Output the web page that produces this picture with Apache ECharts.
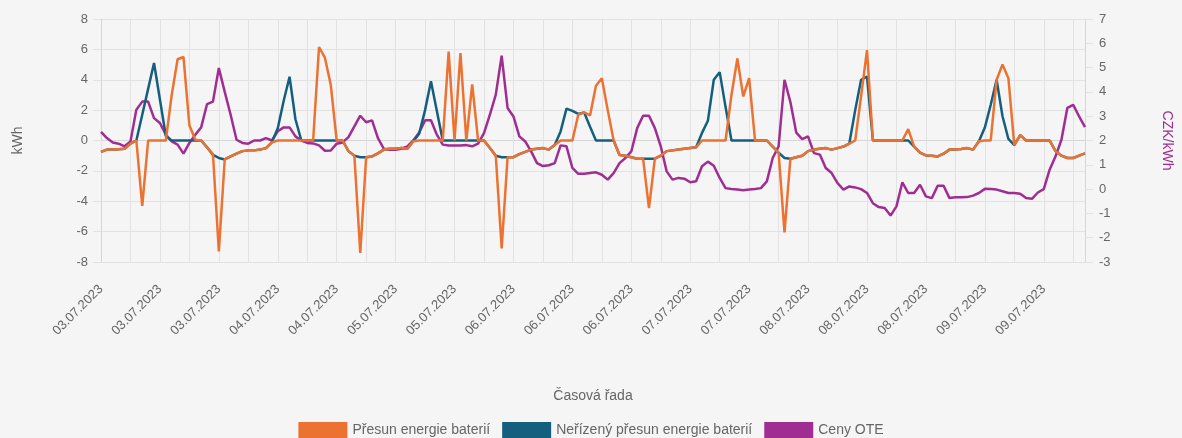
<!DOCTYPE html>
<html>
<head>
<meta charset="utf-8">
<script src="https://cdn.jsdelivr.net/npm/echarts@6/dist/echarts.min.js"></script>
<style>
html, body { margin: 0; padding: 0; background: #f5f5f5; }
#chart { width: 1182px; height: 438px; }
</style>
</head>
<body>
<div id="chart"></div>
<script>
// hodinova data, prvni bod 03.07.2023 02:00
const days = ['03.07.2023', '04.07.2023', '05.07.2023', '06.07.2023', '07.07.2023', '08.07.2023', '09.07.2023', '10.07.2023'];
const firstHour = 2;
const pointCount = 168;

// Přesun energie baterií (kWh)
const presun = [
  -0.75, -0.6, -0.6, -0.57, -0.55, -0.2, 0, -4.3, 0, 0,
  0, 0, 3.0, 5.35, 5.5, 1.0, 0.05, 0, -0.45, -0.9,
  -7.3, -1.25, -1.05, -0.87, -0.7, -0.65, -0.65, -0.6, -0.5, -0.12,
  0, 0, 0, 0, 0, 0, 0, 6.15, 5.45, 3.65,
  0, 0, -0.7, -1.0, -7.4, -1.1, -1.05, -0.85, -0.6, -0.55,
  -0.55, -0.5, -0.55, -0.05, 0, 0, 0, 0, 0, 5.85,
  0, 5.75, 0, 3.7, 0, 0, -0.5, -1.0, -7.1, -1.1,
  -1.1, -0.9, -0.75, -0.6, -0.55, -0.5, -0.6, -0.3, 0, 0,
  0, 1.7, 1.85, 1.65, 3.6, 4.1, 2.0, 0, -0.95, -1.0,
  -1.1, -1.2, -1.2, -4.45, -1.2, -1.0, -0.7, -0.65, -0.6, -0.55,
  -0.5, -0.45, 0, 0, 0, 0, 0, 3.0, 5.4, 2.9,
  4.1, 0, 0, 0, -0.4, -0.8, -6.05, -1.2, -1.1, -1.0,
  -0.7, -0.6, -0.55, -0.5, -0.6, -0.5, -0.4, -0.2, 0, 2.9,
  5.95, 0, 0, 0, 0, 0, 0, 0.75, -0.4, -0.8,
  -0.98, -1.0, -1.05, -0.87, -0.6, -0.6, -0.56, -0.5, -0.6, -0.05,
  0, 0, 4.0, 5.0, 4.1, -0.3, 0.35, 0, 0, 0,
  0, 0, -0.7, -1.0, -1.15, -1.15, -1.0, -0.85
];

// Neřízený přesun energie baterií (kWh)
const nerizeny = [
  -0.75, -0.6, -0.6, -0.57, -0.55, -0.2, 0, 1.7, 3.4, 5.1,
  2.7, 0.3, 0, 0, 0, 0, 0, 0, -0.45, -0.95,
  -1.15, -1.25, -1.05, -0.87, -0.7, -0.65, -0.65, -0.6, -0.5, -0.12,
  0.8, 2.6, 4.2, 1.4, 0, 0, 0, 0, 0, 0,
  0, 0, -0.7, -1.0, -1.1, -1.1, -1.05, -0.85, -0.6, -0.55,
  -0.55, -0.5, -0.55, -0.05, 0.45, 2.0, 3.9, 1.95, 0, 0,
  0, 0, 0, 0, 0, 0, -0.5, -1.0, -1.1, -1.1,
  -1.1, -0.9, -0.75, -0.6, -0.55, -0.5, -0.6, -0.3, 0.6, 2.1,
  1.95, 1.75, 1.85, 0.9, 0, 0, 0, 0, -0.95, -1.0,
  -1.1, -1.2, -1.2, -1.2, -1.2, -1.0, -0.7, -0.65, -0.6, -0.55,
  -0.5, -0.45, 0.5, 1.3, 4.0, 4.5, 2.2, 0, 0, 0,
  0, 0, 0, 0, -0.4, -0.8, -1.15, -1.2, -1.1, -1.0,
  -0.7, -0.6, -0.55, -0.5, -0.6, -0.5, -0.4, -0.2, 2.0, 4.0,
  4.2, 0, 0, 0, 0, 0, 0, 0, -0.4, -0.8,
  -0.98, -1.0, -1.05, -0.87, -0.6, -0.6, -0.56, -0.5, -0.6, -0.05,
  0.85, 2.35, 4.0, 1.6, 0.1, -0.3, 0.35, 0, 0, 0,
  0, 0, -0.7, -1.0, -1.15, -1.15, -1.0, -0.85
];

// Ceny OTE (CZK/kWh)
const cenyOte = [
  2.35, 2.1, 1.92, 1.87, 1.76, 1.96, 3.27, 3.6, 3.6, 2.92,
  2.72, 2.24, 1.96, 1.83, 1.46, 1.9, 2.24, 2.54, 3.5, 3.6,
  4.98, 4.0, 3.06, 2.03, 1.9, 1.87, 2.0, 2.0, 2.1, 2.0,
  2.38, 2.54, 2.54, 2.17, 2.0, 1.9, 1.88, 1.8, 1.58, 1.59,
  1.87, 1.92, 2.14, 2.58, 3.02, 2.75, 2.83, 2.1, 1.66, 1.62,
  1.62, 1.66, 1.76, 2.0, 2.33, 2.83, 2.83, 2.24, 1.83, 1.79,
  1.79, 1.79, 1.81, 1.76, 1.87, 2.3, 3.06, 3.89, 5.49, 3.34,
  2.99, 2.17, 1.96, 1.55, 1.07, 0.95, 0.98, 1.07, 1.8, 1.76,
  0.87, 0.63, 0.63, 0.66, 0.69, 0.59, 0.39, 0.66, 1.07, 1.28,
  1.55, 2.51, 3.02, 3.02, 2.51, 1.76, 0.73, 0.39, 0.46, 0.43,
  0.28, 0.32, 0.94, 1.13, 0.96, 0.46, 0.04, 0.0, -0.02, -0.05,
  -0.02, 0.0, 0.04, 0.32, 1.28, 1.76, 4.5, 3.58, 2.32, 2.06,
  2.17, 1.48, 1.42, 0.87, 0.66, 0.25, -0.02, 0.11, 0.07, 0.0,
  -0.16, -0.58, -0.74, -0.78, -1.09, -0.71, 0.28, -0.16, -0.16, 0.18,
  -0.3, -0.37, 0.14, 0.14, -0.37, -0.34, -0.34, -0.33, -0.27, -0.16,
  0.01, 0.0, -0.02, -0.09, -0.16, -0.16, -0.19, -0.37, -0.4, -0.14,
  0.0, 0.8, 1.35, 2.03, 3.34, 3.47, 2.99, 2.55
];

let categories = [];
for (let i = 0; i < pointCount; i++) {
  categories.push(days[Math.floor((firstHour + i) / 24)]);
}

const gray = '#666';
const gridColor = '#e2e2e2';
const fontName = 'Liberation Sans, Arial, sans-serif';

let myChart = echarts.init(document.getElementById('chart'));
let option = {
  backgroundColor: '#f5f5f5',
  animation: false,
  textStyle: { fontFamily: fontName },
  grid: { left: 101, right: 96, top: 19, bottom: 176 },
  legend: {
    top: 417,
    left: 'center',
    icon: 'rect',
    itemWidth: 49,
    itemHeight: 16,
    itemGap: 12,
    textStyle: { color: gray, fontSize: 14, fontFamily: fontName },
    data: ['Přesun energie baterií', 'Neřízený přesun energie baterií', 'Ceny OTE']
  },
  xAxis: {
    type: 'category',
    boundaryGap: false,
    data: categories,
    name: 'Časová řada',
    nameLocation: 'middle',
    nameGap: 127,
    nameTextStyle: { color: gray, fontSize: 14 },
    axisLine: { lineStyle: { color: '#d6d6d6' } },
    axisTick: { interval: 4, length: 10, lineStyle: { color: gridColor } },
    axisLabel: { interval: 9, rotate: 45, margin: 25, color: gray, fontSize: 13 },
    splitLine: { show: true, interval: 4, lineStyle: { color: gridColor } }
  },
  yAxis: [
    {
      type: 'value',
      position: 'left',
      min: -8,
      max: 8,
      interval: 2,
      name: 'kWh',
      nameLocation: 'middle',
      nameRotate: 90,
      nameGap: 76,
      nameTextStyle: { color: gray, fontSize: 14 },
      axisLine: { show: true, lineStyle: { color: '#d6d6d6' } },
      axisTick: { show: true, length: 8, lineStyle: { color: gridColor } },
      axisLabel: { margin: 13, color: gray, fontSize: 13 },
      splitLine: { lineStyle: { color: gridColor } }
    },
    {
      type: 'value',
      position: 'right',
      min: -3,
      max: 7,
      interval: 1,
      name: 'CZK/kWh',
      nameLocation: 'middle',
      nameRotate: -90,
      nameGap: 75,
      nameTextStyle: { color: '#a02d91', fontSize: 14 },
      axisLine: { show: true, lineStyle: { color: '#d6d6d6' } },
      axisTick: { show: true, length: 8, lineStyle: { color: gridColor } },
      axisLabel: { margin: 14, color: gray, fontSize: 13 },
      splitLine: { show: false }
    }
  ],
  series: [
    {
      name: 'Přesun energie baterií',
      type: 'line',
      z: 4,
      symbol: 'none',
      data: presun,
      itemStyle: { color: '#ec7231' },
      lineStyle: { color: '#ec7231', width: 2.5 }
    },
    {
      name: 'Neřízený přesun energie baterií',
      type: 'line',
      z: 3,
      symbol: 'none',
      data: nerizeny,
      itemStyle: { color: '#155f7e' },
      lineStyle: { color: '#155f7e', width: 2.5 }
    },
    {
      name: 'Ceny OTE',
      type: 'line',
      z: 2,
      yAxisIndex: 1,
      symbol: 'none',
      data: cenyOte,
      itemStyle: { color: '#a02d91' },
      lineStyle: { color: '#a02d91', width: 2.5 }
    }
  ]
};
myChart.setOption(option);
</script>
</body>
</html>
